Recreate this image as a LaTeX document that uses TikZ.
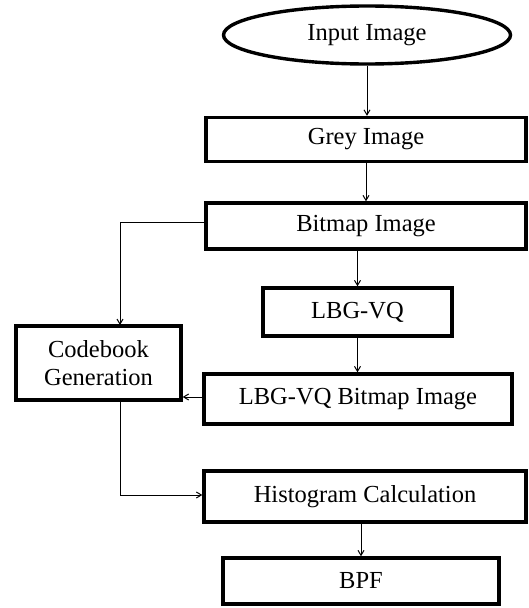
\documentclass[tikz,border=0pt]{standalone}
\usepackage{fontspec}
\setmainfont{Liberation Serif}
\usepackage{tikz}
\usetikzlibrary{calc,arrows.meta,shapes.geometric}

\begin{document}
\begin{tikzpicture}[x=1pt, y=-1pt,
    every node/.style={draw, line width=3.4pt, inner sep=0pt, font=\fontsize{24.5}{28}\selectfont, align=center},
    blk/.style={rectangle},
    arr/.style={line width=1pt, -{Straight Barb[length=5pt,width=6pt]}}]
    \useasboundingbox (0,0) rectangle (528,608);

    \node[ellipse, minimum width=287, minimum height=58] (in) at (367,35) {Input Image};
    \node[blk, minimum width=320, minimum height=44] (grey) at (366,139.5) {Grey Image};
    \node[blk, minimum width=320, minimum height=46] (bitmap) at (366,226) {Bitmap Image};
    \node[blk, minimum width=189, minimum height=48] (lbg) at (357.5,312) {LBG-VQ};
    \node[blk, minimum width=165, minimum height=74] (code) at (98.5,363) {Codebook\\Generation};
    \node[blk, minimum width=308, minimum height=50] (lbgbit) at (358,399) {LBG-VQ Bitmap Image};
    \node[blk, minimum width=322, minimum height=51] (hist) at (365,496.5) {Histogram Calculation};
    \node[blk, minimum width=276, minimum height=46] (bpf) at (361,581) {BPF};

    \coordinate (cbtop) at (120,325);
    \coordinate (cbbot) at (120,401);

    \draw[arr] (in.south) -- (in.south |- grey.north);
    \draw[arr] (grey.south) -- (grey.south |- bitmap.north);
    \draw[arr] (lbg.north |- bitmap.south) -- (lbg.north);
    \draw[arr] (lbg.south) -- (lbg.south |- lbgbit.north);
    \draw[arr] ([yshift=4pt]bitmap.west) -| (cbtop);
    \draw[arr] ([yshift=2pt]lbgbit.west) -- ([yshift=2pt]lbgbit.west -| code.east);
    \draw[arr] (cbbot) |- ([yshift=1.5pt]hist.west);
    \draw[arr] (bpf.north |- hist.south) -- (bpf.north);
\end{tikzpicture}
\end{document}
